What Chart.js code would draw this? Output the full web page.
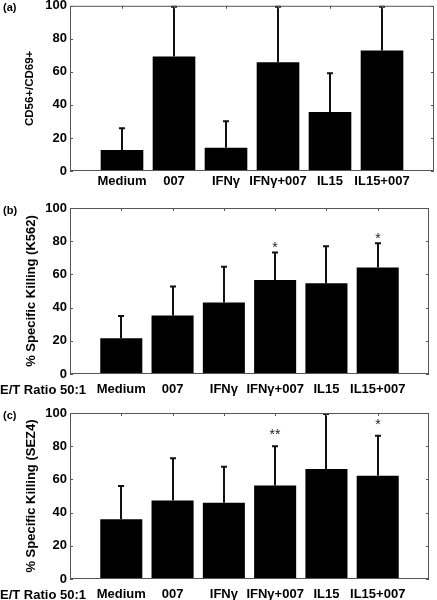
<!DOCTYPE html>
<html>
<head>
<meta charset="utf-8">
<script src="https://cdn.jsdelivr.net/npm/chart.js@4.4.1/dist/chart.umd.min.js"></script>
<style>
  body { margin: 0; background: #fff; }
  #figure { position: relative; width: 437px; height: 600px; overflow: hidden; background: #fff; }
  .panel { position: absolute; left: 0; width: 437px; }
</style>
</head>
<body>
<div id="figure">
  <div class="panel" style="top:-5px;height:200px"><canvas id="panelA" width="437" height="200"></canvas></div>
  <div class="panel" style="top:195px;height:205px"><canvas id="panelB" width="437" height="205"></canvas></div>
  <div class="panel" style="top:400px;height:200px"><canvas id="panelC" width="437" height="200"></canvas></div>
</div>
<script>
// Treatment groups (x axis)
const categories = ['Medium', '007', 'IFNγ', 'IFNγ+007', 'IL15', 'IL15+007'];

// (a) CD56+/CD69+ cells
const cd69Mean = [12.7, 69.3, 14.0, 65.9, 35.7, 72.9];
const cd69Sd = [13.8, 31.0, 16.7, 34.5, 24.1, 27.5];

// (b) % specific killing of K562
const k562Mean = [21.5, 35.2, 43.0, 56.7, 54.7, 64.2];
const k562Sd = [14.1, 18.1, 22.2, 17.1, 22.8, 15.1];
const k562Stars = ['', '', '', '*', '', '*'];

// (c) % specific killing of SEZ4
const sez4Mean = [36.0, 47.3, 45.9, 56.3, 66.2, 62.2];
const sez4Sd = [20.7, 26.1, 22.3, 24.2, 34.5, 24.7];
const sez4Stars = ['', '', '', '**', '', '*'];

const FONT = "'Liberation Sans', Arial, Helvetica, sans-serif";
Chart.defaults.font.family = FONT;
Chart.defaults.font.size = 13;
Chart.defaults.font.weight = 'bold';
Chart.defaults.color = '#000';

// empty slot on each side of the groups, like the original figure
const xLabels = [''].concat(categories, ['']);
function pad(arr) {
    return [null].concat(arr, [null]);
}

// frame, inward ticks, error bars, significance stars and panel letters
const panelDecor = {
    id: 'panelDecor',
    afterDatasetsDraw(chart, args, opts) {
        const ctx = chart.ctx;
        const area = chart.chartArea;
        const xs = chart.scales.x;
        const ys = chart.scales.y;
        ctx.save();

        // error bars (upper half only)
        const bars = chart.getDatasetMeta(0).data;
        ctx.strokeStyle = '#111';
        ctx.lineWidth = 2;
        opts.mean.forEach((m, i) => {
            const bar = bars[i + 1];
            const cx = Math.round(bar.x);
            const top = Math.max(ys.getPixelForValue(m + opts.sd[i]), area.top);
            ctx.beginPath();
            ctx.moveTo(cx, bar.y);
            ctx.lineTo(cx, top);
            ctx.moveTo(cx - 3, top + 1);
            ctx.lineTo(cx + 3, top + 1);
            ctx.stroke();
            if (opts.stars && opts.stars[i]) {
                ctx.fillStyle = '#222';
                ctx.font = '14px ' + FONT;
                ctx.textAlign = 'center';
                ctx.textBaseline = 'alphabetic';
                ctx.fillText(opts.stars[i], cx, top - opts.starGap);
            }
        });

        // box around the plot
        ctx.strokeStyle = '#555';
        ctx.lineWidth = 1;
        ctx.strokeRect(area.left + 0.5, area.top + 0.5, area.right - area.left - 1, area.bottom - area.top - 1);

        // inward tick marks on all four sides
        ctx.beginPath();
        ys.ticks.forEach(t => {
            const py = Math.round(ys.getPixelForValue(t.value)) + 0.5;
            ctx.moveTo(area.left, py);
            ctx.lineTo(area.left + 3, py);
            ctx.moveTo(area.right, py);
            ctx.lineTo(area.right - 3, py);
        });
        for (let i = 1; i <= categories.length; i++) {
            const px = Math.round(xs.getPixelForValue(i)) + 0.5;
            ctx.moveTo(px, area.top);
            ctx.lineTo(px, area.top + 3);
        }
        ctx.stroke();

        // panel letter
        ctx.fillStyle = '#000';
        ctx.font = 'bold 11px ' + FONT;
        ctx.textAlign = 'left';
        ctx.textBaseline = 'middle';
        ctx.fillText(opts.letter, 3, area.top + 2.5);

        // E/T ratio note under the axis
        if (opts.ratio) {
            ctx.font = 'bold 13px ' + FONT;
            ctx.fillText(opts.ratio, 0, area.bottom + opts.tickPad + 8);
        }
        ctx.restore();
    }
};

function makePanel(id, cfg) {
    new Chart(document.getElementById(id), {
        type: 'bar',
        data: {
            labels: xLabels,
            datasets: [{
                data: pad(cfg.mean),
                backgroundColor: '#000',
                borderWidth: 0,
                barPercentage: 0.82,
                categoryPercentage: 1
            }]
        },
        options: {
            responsive: false,
            animation: false,
            layout: { padding: { top: cfg.padTop, left: 0, right: 0, bottom: 0 } },
            scales: {
                x: {
                    offset: false,
                    grid: { display: false, drawTicks: false, offset: false },
                    border: { display: false },
                    ticks: { autoSkip: false, maxRotation: 0, padding: cfg.tickPad },
                    afterFit: s => { s.height = cfg.xHeight; }
                },
                y: {
                    min: 0,
                    max: 100,
                    grid: { display: false, drawTicks: false },
                    border: { display: false },
                    ticks: { stepSize: 20, padding: 3 },
                    title: {
                        display: true,
                        text: cfg.title,
                        font: { size: cfg.titleSize, weight: 'bold' },
                        padding: { top: cfg.titlePad, bottom: 0 }
                    },
                    afterFit: s => { s.width = 70; }
                }
            },
            plugins: {
                legend: { display: false },
                tooltip: { enabled: false },
                panelDecor: {
                    mean: cfg.mean,
                    sd: cfg.sd,
                    stars: cfg.stars,
                    starGap: cfg.starGap,
                    letter: cfg.letter,
                    ratio: cfg.ratio,
                    tickPad: cfg.tickPad
                }
            }
        },
        plugins: [panelDecor]
    });
}

makePanel('panelA', {
    mean: cd69Mean, sd: cd69Sd, title: 'CD56+/CD69+', letter: '(a)',
    titleSize: 11.5, titlePad: 23,
    padTop: 10, xHeight: 24, tickPad: 3
});
makePanel('panelB', {
    mean: k562Mean, sd: k562Sd, stars: k562Stars, starGap: -1,
    title: '% Specific Killing (K562)', letter: '(b)', ratio: 'E/T Ratio 50:1',
    titleSize: 13, titlePad: 24,
    padTop: 13, xHeight: 26, tickPad: 8
});
makePanel('panelC', {
    mean: sez4Mean, sd: sez4Sd, stars: sez4Stars, starGap: 6,
    title: '% Specific Killing (SEZ4)', letter: '(c)', ratio: 'E/T Ratio 50:1',
    titleSize: 13, titlePad: 24,
    padTop: 13, xHeight: 21, tickPad: 8
});
</script>
</body>
</html>
